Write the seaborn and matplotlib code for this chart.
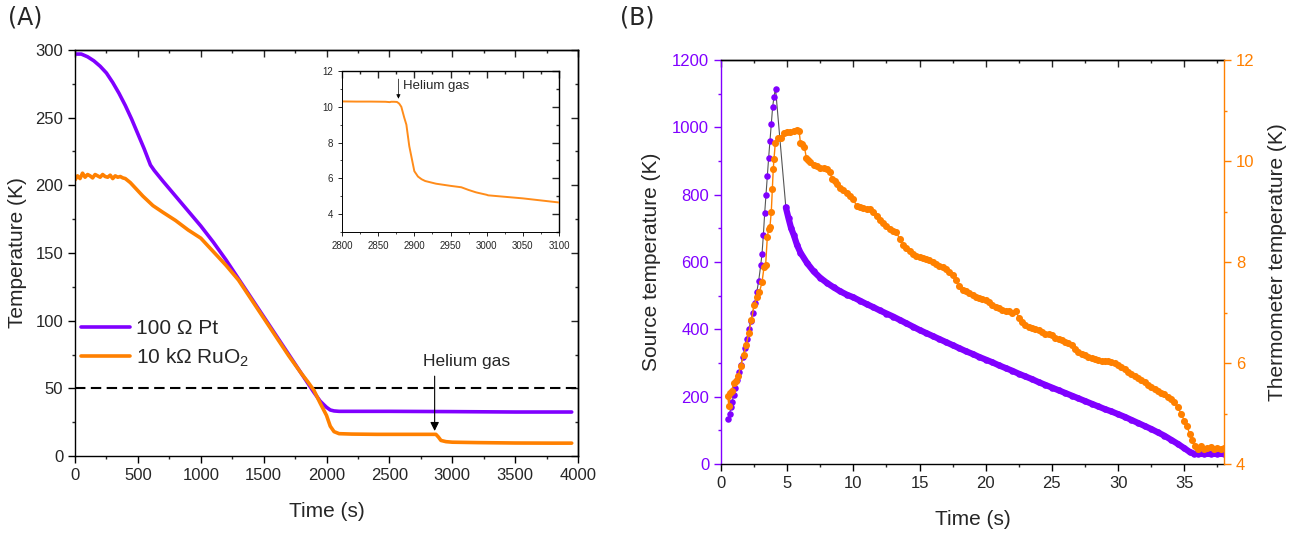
import numpy as np
import pandas as pd
import matplotlib
matplotlib.use("Agg")
import matplotlib.pyplot as plt
from matplotlib.ticker import MultipleLocator
import seaborn as sns

# ---------------- data ----------------
# (A) cool-down of the two thermometers
pt_time = [0, 50, 100, 150, 200, 250, 300, 350, 400, 450, 500, 550, 600, 630, 700, 800,
           900, 1000, 1100, 1200, 1300, 1400, 1500, 1600, 1700, 1800, 1850, 1900, 1950,
           2000, 2030, 2060, 2100, 2500, 3000, 3500, 3950]
pt_temp = [297, 297, 295, 292, 288, 283, 276, 268, 259, 249, 238, 227, 215, 211, 203, 192,
           181, 170, 158, 145, 131, 117, 103, 89, 75, 61, 54, 47, 40.5,
           36, 34, 33.3, 33, 33, 32.8, 32.5, 32.5]

ruo_time = [0, 20, 40, 60, 80, 100, 120, 140, 160, 180, 200, 220, 240, 260, 280, 300,
            320, 340, 360, 380, 400, 420, 440, 460, 480, 500, 540, 580, 620, 700, 800,
            900, 1000, 1100, 1200, 1300, 1400, 1500, 1600, 1700, 1800, 1850, 1900, 1950,
            2000, 2030, 2060, 2100, 2200, 2400, 2600, 2800, 2870, 2890, 2910, 2950, 3000,
            3200, 3500, 3800, 3950]
ruo_temp = [204, 207, 205, 209, 206, 208, 207, 205.5, 208, 207, 206, 208, 206.5, 206, 207.5, 205,
            207, 206, 206.5, 205.5, 205, 203.5, 202, 200, 198, 196, 192, 188.5, 185, 180, 174,
            167, 161, 151, 141, 130, 116, 102, 88, 74, 61, 55, 48.5, 39,
            30, 22, 18, 16.5, 16.2, 16, 16, 16, 16, 14, 11.5, 10.6, 10.2,
            9.9, 9.6, 9.5, 9.5]

# inset: RuO2 around the helium exchange-gas admission
ins_time = [2800, 2820, 2840, 2860, 2866, 2868, 2872, 2876, 2879, 2882, 2886, 2889, 2893,
            2897, 2900, 2905, 2910, 2915, 2930, 2950, 2965, 2975, 2985, 2987, 3000, 3002,
            3050, 3100]
ins_temp = [10.3, 10.29, 10.29, 10.28, 10.26, 10.28, 10.28, 10.27, 10.18, 10.0, 9.4, 9.0, 7.8,
            7.0, 6.4, 6.1, 5.95, 5.85, 5.7, 5.58, 5.5, 5.35, 5.22, 5.2, 5.08, 5.05,
            4.88, 4.65]

# (B) pulsed source and thermometer response
src_rise_t = [0.55, 0.65, 0.75, 0.85, 0.95, 1.05, 1.2, 1.35, 1.5, 1.65, 1.8, 1.95, 2.1, 2.25,
              2.4, 2.55, 2.7, 2.85, 3.0, 3.1, 3.2, 3.3, 3.4, 3.5, 3.6, 3.7, 3.8, 3.9, 4.0, 4.12]
src_rise_T = [133, 150, 168, 185, 205, 225, 250, 272, 295, 318, 345, 372, 400, 425,
              450, 478, 510, 545, 590, 625, 680, 745, 800, 855, 910, 960, 1010, 1060, 1090, 1115]
src_fall_t = [4.9, 5.1, 5.3, 5.5, 5.75, 6.0, 6.5, 7.0, 7.5, 8.0, 8.5, 9.0, 9.5, 10, 10.5, 11,
              11.5, 12, 12.5, 13, 13.5, 14, 14.5, 15, 15.5, 16, 16.5, 17, 17.5, 18, 18.5, 19,
              19.5, 20, 20.5, 21, 21.5, 22, 22.5, 23, 23.5, 24, 24.5, 25, 25.5, 26, 26.5, 27,
              27.5, 28, 28.5, 29, 29.5, 30, 30.5, 31, 31.5, 32, 32.5, 33, 33.5, 34, 34.5, 35,
              35.4, 35.7, 36, 36.5, 37, 37.5, 38]
src_fall_T = [762, 730, 700, 680, 650, 628, 597, 572, 553, 538, 525, 513, 503, 495, 485, 475,
              466, 456, 447, 438, 428, 418, 408, 398, 389, 380, 371, 362, 353, 344, 335, 327,
              318, 310, 302, 293, 285, 277, 268, 260, 252, 243, 235, 227, 219, 211, 203, 195,
              187, 179, 171, 163, 156, 148, 140, 131, 122, 113, 104, 94, 84, 72, 60, 47,
              36, 31, 30, 30, 30, 30, 30]

thermo_t = [0.5, 0.6, 0.7, 0.8, 0.95, 1.1, 1.3, 1.5, 1.7, 1.9, 2.1, 2.3, 2.5, 2.7, 2.9, 3.1,
            3.25, 3.375, 3.5, 3.6, 3.7, 3.8, 3.875, 3.95, 4.0, 4.1, 4.3, 4.5, 4.75,
            5.0, 5.25, 5.5, 5.75, 5.9, 6.0, 6.15, 6.3, 6.45, 6.6, 6.75, 7.0, 7.25, 7.5, 7.75,
            8.0, 8.2, 8.4, 8.6, 8.8, 9.0, 9.25, 9.5, 9.75, 10.0, 10.25, 10.5, 10.75, 11.0,
            11.25, 11.5, 11.75, 12.0, 12.25, 12.5, 12.75, 13.0, 13.25, 13.5, 13.75, 14.0,
            14.25, 14.5, 14.75, 15.0, 15.25, 15.5, 15.75, 16.0, 16.25, 16.5, 16.75, 17.0,
            17.25, 17.5, 17.75, 18.0, 18.25, 18.5, 18.75, 19.0, 19.25, 19.5, 19.75, 20.0,
            20.25, 20.5, 20.75, 21.0, 21.25, 21.5, 21.75, 22.0, 22.25, 22.5, 22.75, 23.0,
            23.25, 23.5, 23.75, 24.0, 24.25, 24.5, 24.75, 25.0, 25.25, 25.5, 25.75, 26.0,
            26.25, 26.5, 26.75, 27.0, 27.25, 27.5, 27.75, 28.0, 28.25, 28.5, 28.75, 29.0,
            29.25, 29.5, 29.75, 30.0, 30.25, 30.5, 30.75, 31.0, 31.25, 31.5, 31.75, 32.0,
            32.25, 32.5, 32.75, 33.0, 33.25, 33.5, 33.75, 34.0, 34.25, 34.5, 34.75, 35.0,
            35.2, 35.4, 35.6, 35.8, 36.0, 36.25, 36.5, 36.75, 37.0, 37.25, 37.5, 37.75, 38.0]
thermo_T = [5.35, 5.15, 5.4, 5.45, 5.6, 5.65, 5.75, 5.95, 6.15, 6.35, 6.6, 6.85, 7.15, 7.3, 7.4, 7.6,
            7.9, 7.95, 8.5, 8.65, 8.7, 9.0, 9.45, 9.85, 10.03, 10.35, 10.45, 10.45, 10.55,
            10.58, 10.58, 10.6, 10.62, 10.6, 10.36, 10.34, 10.28, 10.06, 10.02, 9.98, 9.93, 9.9,
            9.87, 9.86, 9.85, 9.78, 9.64, 9.6, 9.54, 9.46, 9.42, 9.36, 9.3, 9.25, 9.1, 9.08,
            9.07, 9.05, 9.05, 8.99, 8.92, 8.84, 8.78, 8.72, 8.66, 8.62, 8.6, 8.45, 8.34, 8.28,
            8.22, 8.16, 8.12, 8.09, 8.07, 8.05, 8.03, 8.0, 7.97, 7.93, 7.9, 7.86,
            7.8, 7.74, 7.65, 7.52, 7.44, 7.42, 7.38, 7.35, 7.31, 7.28, 7.26, 7.25,
            7.2, 7.15, 7.1, 7.08, 7.05, 7.03, 7.02, 7.0, 7.03, 6.9, 6.82, 6.76,
            6.72, 6.7, 6.68, 6.65, 6.61, 6.58, 6.57, 6.55, 6.5, 6.48, 6.45, 6.42,
            6.39, 6.35, 6.28, 6.22, 6.18, 6.15, 6.12, 6.1, 6.07, 6.06, 6.04, 6.03,
            6.03, 6.02, 6.0, 5.97, 5.92, 5.88, 5.82, 5.78, 5.74, 5.7, 5.66, 5.62,
            5.57, 5.52, 5.48, 5.45, 5.41, 5.38, 5.33, 5.28, 5.22, 5.12, 5.0, 4.86,
            4.75, 4.6, 4.48, 4.35, 4.3, 4.35, 4.3, 4.32, 4.33, 4.3, 4.32, 4.3, 4.32]

# ---------------- style ----------------
PURPLE = "#8000ff"
ORANGE = "#ff8000"
ORANGE_LIGHT = "#ff8c1a"

sns.set_theme(style="ticks")
plt.rcParams["font.family"] = ["Liberation Sans", "DejaVu Sans"]
plt.rcParams["mathtext.fontset"] = "custom"
plt.rcParams["mathtext.rm"] = "Liberation Sans"
plt.rcParams["mathtext.it"] = "Liberation Sans:italic"
plt.rcParams["axes.linewidth"] = 1.0
plt.rcParams["axes.edgecolor"] = "black"

W, H = 1303, 533
fig = plt.figure(figsize=(W / 100, H / 100), dpi=100)


def box(left, top, right, bottom):
    return [left / W, 1 - bottom / H, (right - left) / W, (bottom - top) / H]


def style_ticks(ax, xmaj, xmin, ymaj, ymin, size=12, mirror_x=True, mirror_y=True):
    ax.xaxis.set_major_locator(MultipleLocator(xmaj))
    ax.xaxis.set_minor_locator(MultipleLocator(xmin))
    ax.yaxis.set_major_locator(MultipleLocator(ymaj))
    ax.yaxis.set_minor_locator(MultipleLocator(ymin))
    ax.tick_params(which="major", direction="out", length=5, width=1.0, labelsize=size,
                   color="black", top=False, right=False)
    ax.tick_params(which="minor", direction="out", length=2.5, width=1.0, top=False, right=False)
    if mirror_x:
        sx = ax.secondary_xaxis("top")
        sx.xaxis.set_major_locator(MultipleLocator(xmaj))
        sx.xaxis.set_minor_locator(MultipleLocator(xmin))
        sx.tick_params(which="major", direction="in", length=5, width=1.0, labeltop=False)
        sx.tick_params(which="minor", direction="in", length=2.5, width=1.0)
    if mirror_y:
        sy = ax.secondary_yaxis("right")
        sy.yaxis.set_major_locator(MultipleLocator(ymaj))
        sy.yaxis.set_minor_locator(MultipleLocator(ymin))
        sy.tick_params(which="major", direction="in", length=5, width=1.0, labelright=False)
        sy.tick_params(which="minor", direction="in", length=2.5, width=1.0)


# ---------------- panel A ----------------
axA = fig.add_axes(box(75, 50, 578, 456))
sns.lineplot(x=pt_time, y=pt_temp, ax=axA, color=PURPLE, lw=2.6, estimator=None,
             sort=False, label="100 Ω Pt")
sns.lineplot(x=ruo_time, y=ruo_temp, ax=axA, color=ORANGE, lw=2.6, estimator=None,
             sort=False, label="10 kΩ RuO$_2$")
axA.axhline(50, color="black", lw=1.5, ls=(0, (5, 2.6)), zorder=1)
axA.set_xlim(0, 4000)
axA.set_ylim(0, 300)
style_ticks(axA, 500, 250, 50, 25, size=12)
axA.set_xlabel("Time (s)", fontsize=15, labelpad=14)
axA.set_ylabel("Temperature (K)", fontsize=15, labelpad=6)
axA.legend(loc="center left", bbox_to_anchor=(0.012, 0.276), frameon=False, fontsize=15,
           handlelength=2.35, handletextpad=0.3, labelspacing=0.38, borderpad=0,
           borderaxespad=0)
axA.annotate("", xy=(2860, 18.5), xytext=(2860, 59),
             arrowprops=dict(arrowstyle="-|>", color="black", lw=0.8, mutation_scale=13,
                             shrinkA=0, shrinkB=0))
axA.text(3110, 70, "Helium gas", fontsize=12.5, ha="center", va="center")

# inset
axI = fig.add_axes(box(342, 71, 559, 232))
sns.lineplot(x=ins_time, y=ins_temp, ax=axI, color=ORANGE_LIGHT, lw=1.4, estimator=None,
             sort=False)
axI.set_xlim(2800, 3100)
axI.set_ylim(3, 12)
style_ticks(axI, 50, 25, 2, 1, size=7)
axI.tick_params(which="major", length=3, width=0.6)
axI.tick_params(which="minor", length=1.5, width=0.6)
for s in axI.spines.values():
    s.set_linewidth(0.7)
axI.annotate("", xy=(2878, 10.45), xytext=(2878, 11.55),
             arrowprops=dict(arrowstyle="-|>", color="black", lw=0.5, mutation_scale=6,
                             shrinkA=0, shrinkB=0))
axI.text(2884, 11.15, "Helium gas", fontsize=9.5, ha="left", va="center")

# ---------------- panel B ----------------
axB = fig.add_axes(box(721, 60, 1224, 464))
src = pd.DataFrame({"t": src_rise_t + src_fall_t, "T": src_rise_T + src_fall_T})
sns.lineplot(data=src, x="t", y="T", ax=axB, color="#555555", lw=0.8, estimator=None,
             sort=False, zorder=2)
sns.lineplot(x=src_fall_t, y=src_fall_T, ax=axB, color=PURPLE, lw=4.5, estimator=None,
             sort=False, zorder=3)
sns.scatterplot(data=src, x="t", y="T", ax=axB, color=PURPLE, s=22, linewidth=0, zorder=4)
axB.set_xlim(0, 38)
axB.set_ylim(0, 1200)
style_ticks(axB, 5, 2.5, 200, 100, size=12, mirror_y=False)
axB.tick_params(axis="y", which="both", colors=PURPLE)
axB.spines["left"].set_color(PURPLE)
axB.spines["right"].set_visible(False)
axB.set_xlabel("Time (s)", fontsize=15, labelpad=14)
axB.set_ylabel("Source temperature (K)", fontsize=15, labelpad=8)

axR = axB.twinx()
sns.lineplot(x=thermo_t, y=thermo_T, ax=axR, color=ORANGE, lw=1.0, estimator=None,
             sort=False, zorder=2)
sns.scatterplot(x=thermo_t, y=thermo_T, ax=axR, color=ORANGE, s=26, linewidth=0, zorder=3)
axR.set_ylim(4, 12)
axR.yaxis.set_major_locator(MultipleLocator(2))
axR.yaxis.set_minor_locator(MultipleLocator(1))
axR.tick_params(axis="y", which="major", direction="out", length=5, width=1.0,
                labelsize=12, colors=ORANGE)
axR.tick_params(axis="y", which="minor", direction="out", length=2.5, width=1.0,
                colors=ORANGE)
axR.spines["right"].set_color(ORANGE)
axR.spines["left"].set_visible(False)
axR.spines["top"].set_visible(False)
axR.spines["bottom"].set_visible(False)
axR.set_ylabel("Thermometer temperature (K)", fontsize=15, labelpad=10)

# panel letters
fig.text(8 / W, 1 - 6 / H, "(A)", fontsize=17, family="DejaVu Sans", ha="left", va="top")
fig.text(620 / W, 1 - 6 / H, "(B)", fontsize=17, family="DejaVu Sans", ha="left", va="top")

fig.savefig("out.png", dpi=100)
